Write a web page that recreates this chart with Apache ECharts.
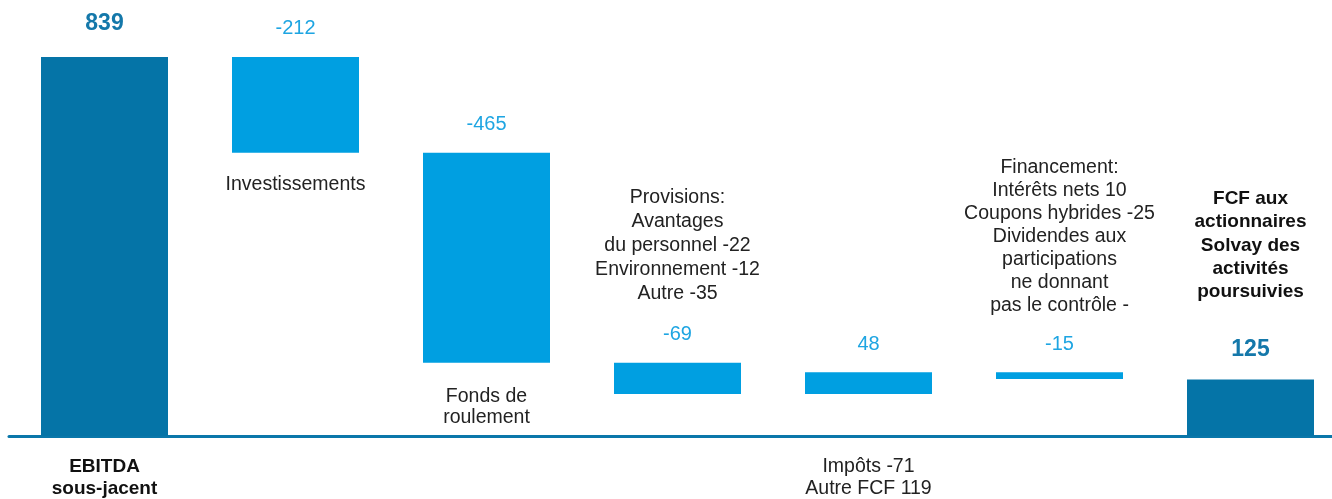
<!DOCTYPE html>
<html>
<head>
<meta charset="utf-8">
<script src="https://cdn.jsdelivr.net/npm/echarts@6/dist/echarts.min.js"></script>
<style>
	html, body { margin:0; padding:0; background:#fff; overflow:hidden; }
	#chart_main { width:1346px; height:499px; }
</style>
</head>
<body>
<div id="chart_main"></div>
<script type="text/javascript">
// données du pont FCF
var categories = ['EBITDA sous-jacent', 'Investissements', 'Fonds de roulement', 'Provisions', 'Impôts / Autre FCF', 'Financement', 'FCF aux actionnaires'];
var deltas = [839, -212, -465, -69, 48, -15, 125];
var is_total = [true, false, false, false, false, false, true];
var value_labels = ['839', '-212', '-465', '-69', '48', '-15', '125'];
// textes explicatifs
var axis_texts = ['EBITDA\nsous-jacent', '', '', '', 'Impôts -71\nAutre FCF 119', '', ''];
var below_texts = ['', 'Investissements', 'Fonds de\nroulement', '', '', '', ''];
var above_texts = ['', '', '', 'Provisions:\nAvantages\ndu personnel -22\nEnvironnement -12\nAutre -35', '', 'Financement:\nIntérêts nets 10\nCoupons hybrides -25\nDividendes aux\nparticipations\nne donnant\npas le contrôle -', 'FCF aux\nactionnaires\nSolvay des\nactivités\npoursuivies'];

var dark = '#0574a7';
var light = '#009fe1';
var font = "'Liberation Sans', Arial, sans-serif";

var myChart = echarts.init(document.getElementById('chart_main'));

var base_data = [];
var bar_data = [];
var running = 0;
for (var i = 0; i < deltas.length; i++) {
	var d = deltas[i];
	var b, h;
	if (is_total[i]) {
		b = 0; h = d; running = d;
	} else if (d < 0) {
		b = running + d; h = -d; running += d;
	} else {
		b = running; h = d; running += d;
	}
	// libellé sous la barre (porté par la base transparente)
	var base_item = {value: b};
	if (below_texts[i]) {
		base_item.label = {
			show: true, position: 'insideTop', distance: 23,
			formatter: below_texts[i], color: '#222', fontSize: 19.5, fontFamily: font,
			lineHeight: below_texts[i].indexOf('\n') > 0 ? 21 : 18, align: 'center'
		};
	}
	base_data.push(base_item);

	var vstyle = is_total[i] ? 'vd' : 'vl';
	var txt = '';
	if (above_texts[i]) {
		var dstyle = is_total[i] ? 'db' : (i == 5 ? 'd2' : 'd');
		var lines = above_texts[i].split('\n');
		for (var k = 0; k < lines.length; k++) {
			txt += '{' + dstyle + '|' + lines[k] + '}\n';
		}
		txt += '{' + (is_total[i] ? 'spb' : (i == 5 ? 'sp2' : 'sp')) + '| }\n';
	}
	txt += '{' + vstyle + '|' + value_labels[i] + '}';
	bar_data.push({
		value: h,
		itemStyle: {color: is_total[i] ? dark : light},
		label: {formatter: txt, distance: i == 0 ? 20 : 17}
	});
}

var option = {
	animation: false,
	grid: {left: 9, right: 0, top: 29.4, bottom: 62},
	xAxis: {
		type: 'category',
		data: categories,
		axisLine: {show: true, lineStyle: {color: '#0a77aa', width: 3}},
		axisTick: {show: false},
		axisLabel: {
			interval: 0, margin: 20,
			formatter: function (v, idx) {
				var t = axis_texts[idx];
				if (!t) return '';
				var st = is_total[idx] ? 'ab' : 'a';
				return t.split('\n').map(function (s) { return '{' + st + '|' + s + '}'; }).join('\n');
			},
			rich: {
				a: {fontSize: 19.5, fontFamily: font, color: '#222', lineHeight: 22},
				ab: {fontSize: 19, fontFamily: font, fontWeight: 'bold', color: '#111', lineHeight: 22}
			}
		}
	},
	yAxis: {
		type: 'value', min: 0, max: 900,
		show: false, splitLine: {show: false}
	},
	series: [
		{
			name: 'base', type: 'bar', stack: 'pont', barWidth: 127,
			itemStyle: {color: 'transparent'},
			emphasis: {disabled: true},
			silent: true,
			data: base_data
		},
		{
			name: 'variation', type: 'bar', stack: 'pont', barWidth: 127,
			emphasis: {disabled: true},
			label: {
				show: true, position: 'top', distance: 17, align: 'center',
				rich: {
					d: {fontSize: 19.5, fontFamily: font, color: '#222', lineHeight: 24, align: 'center'},
					d2: {fontSize: 19.5, fontFamily: font, color: '#222', lineHeight: 23, align: 'center'},
					db: {fontSize: 19, fontFamily: font, fontWeight: 'bold', color: '#111', lineHeight: 23.3, align: 'center'},
					sp: {fontSize: 1, lineHeight: 18},
					sp2: {fontSize: 1, lineHeight: 16},
					spb: {fontSize: 1, lineHeight: 33},
					vl: {fontSize: 20, fontFamily: font, color: '#1ea5e2', lineHeight: 22, align: 'center'},
					vd: {fontSize: 23, fontFamily: font, fontWeight: 'bold', color: '#1478aa', lineHeight: 26, align: 'center'}
				}
			},
			data: bar_data
		}
	]
};
myChart.setOption(option);
</script>
</body>
</html>
